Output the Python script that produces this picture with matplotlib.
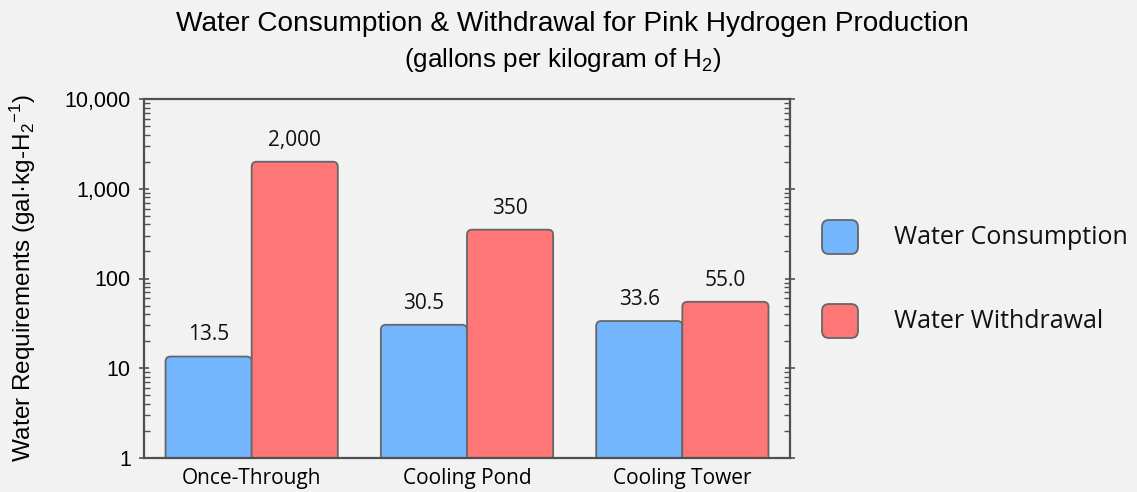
import numpy as np
import matplotlib.pyplot as plt
from matplotlib.patches import FancyBboxPatch
from matplotlib.ticker import FuncFormatter, LogLocator, NullFormatter

# chart data
categories = ['Once-Through', 'Cooling Pond', 'Cooling Tower']
consumption = [13.5, 30.5, 33.6]
withdrawal = [2000, 350, 55.0]
consumption_labels = ['13.5', '30.5', '33.6']
withdrawal_labels = ['2,000', '350', '55.0']
series_names = ['Water Consumption', 'Water Withdrawal']
y_ticks = [1, 10, 100, 1000, 10000]

BG = '#f2f2f2'
BLUE = '#74b6fd'
RED = '#ff7676'
EDGE = '#666666'
SPINE = '#505050'
ARIAL = ['Liberation Sans', 'DejaVu Sans']
HUMANIST = ['Open Sans', 'DejaVu Sans']

plt.rcParams['font.family'] = ARIAL
plt.rcParams['mathtext.fontset'] = 'custom'
plt.rcParams['mathtext.rm'] = 'Liberation Sans'
plt.rcParams['mathtext.it'] = 'Liberation Sans:italic'

W_PX, H_PX = 1137, 492
fig = plt.figure(figsize=(W_PX / 100, H_PX / 100), dpi=100, facecolor=BG)
ax_rect = [144 / W_PX, 1 - 458 / H_PX, (790 - 144) / W_PX, (458 - 99) / H_PX]
ax = fig.add_axes(ax_rect)
ax.set_facecolor(BG)
ax.set_yscale('log')
ax.set_ylim(1, 10000)
ax.set_xlim(-0.5, 2.5)

x = np.arange(len(categories))
w = 0.4
bars_c = ax.bar(x - w / 2, consumption, w)
bars_w = ax.bar(x + w / 2, withdrawal, w)

# rounded bars, built from the bar geometry in axes coordinates
ax_w_px = ax_rect[2] * W_PX
ax_h_px = ax_rect[3] * H_PX
aspect = ax_w_px / ax_h_px
radius = 5 / ax_w_px
to_axes = ax.transData + ax.transAxes.inverted()


def round_bar(bar, color, text):
    bar.set_visible(False)
    x0 = bar.get_x()
    x1 = x0 + bar.get_width()
    top = bar.get_y() + bar.get_height()
    ax0, ay1 = to_axes.transform((x0, top))
    ax1, _ = to_axes.transform((x1, top))
    p = FancyBboxPatch((ax0, -0.05), ax1 - ax0, ay1 + 0.05,
                       boxstyle=f'round,pad=0,rounding_size={radius}',
                       mutation_aspect=aspect, transform=ax.transAxes,
                       facecolor=color, edgecolor=EDGE, linewidth=1.3, zorder=2)
    ax.add_patch(p)
    ax.annotate(text, xy=((x0 + x1) / 2, top), xytext=(0, 8),
                textcoords='offset points', ha='center', va='bottom',
                fontsize=15, family=HUMANIST, color='#111111')


for b, t in zip(bars_c, consumption_labels):
    round_bar(b, BLUE, t)
for b, t in zip(bars_w, withdrawal_labels):
    round_bar(b, RED, t)

# axes styling
for s in ax.spines.values():
    s.set_color(SPINE)
    s.set_linewidth(1.6)
    s.set_zorder(3)
ax.set_yticks(y_ticks)
ax.yaxis.set_major_formatter(FuncFormatter(lambda v, p: f'{int(v):,}'))
ax.yaxis.set_minor_locator(LogLocator(base=10, subs=np.arange(2, 10)))
ax.yaxis.set_minor_formatter(NullFormatter())
ax.tick_params(axis='y', which='major', direction='inout', length=7, width=1.2,
               color=SPINE, left=True, right=True, labelsize=15.5, pad=6)
ax.tick_params(axis='y', which='minor', direction='in', length=4, width=1,
               color=SPINE, left=True, right=True)
ax.set_xticks(x)
ax.set_xticklabels(categories, family=HUMANIST, fontsize=15)
ax.tick_params(axis='x', length=0, pad=7)

ylab = ax.set_ylabel('Water Requirements (gal·kg-$\\mathregular{H_2{}^{-1}}$)',
                     fontsize=17.5)
ylab.set_va('center')
ax.yaxis.set_label_coords(-(144 - 23) / ax_w_px, 0.5)

# titles
fig.text(572 / W_PX, 1 - 24 / H_PX,
         'Water Consumption & Withdrawal for Pink Hydrogen Production',
         ha='center', va='center', fontsize=20.2)
fig.text(563 / W_PX, 1 - 60 / H_PX, '(gallons per kilogram of $\\mathregular{H_2}$)',
         ha='center', va='center', fontsize=18.8)

# legend
leg_colors = [BLUE, RED]
leg_y = [237, 321]
for name, c, yy in zip(series_names, leg_colors, leg_y):
    sq = FancyBboxPatch((822 / W_PX, 1 - (yy + 17) / H_PX), 36 / W_PX, 34 / H_PX,
                        boxstyle=f'round,pad=0,rounding_size={7 / W_PX}',
                        mutation_aspect=W_PX / H_PX, transform=fig.transFigure,
                        facecolor=c, edgecolor=EDGE, linewidth=1.3)
    fig.patches.append(sq)
    fig.text(894 / W_PX, 1 - yy / H_PX, name, ha='left', va='center',
             family=HUMANIST, fontsize=18, color='#111111')

fig.savefig('out.png', dpi=100, facecolor=BG)
